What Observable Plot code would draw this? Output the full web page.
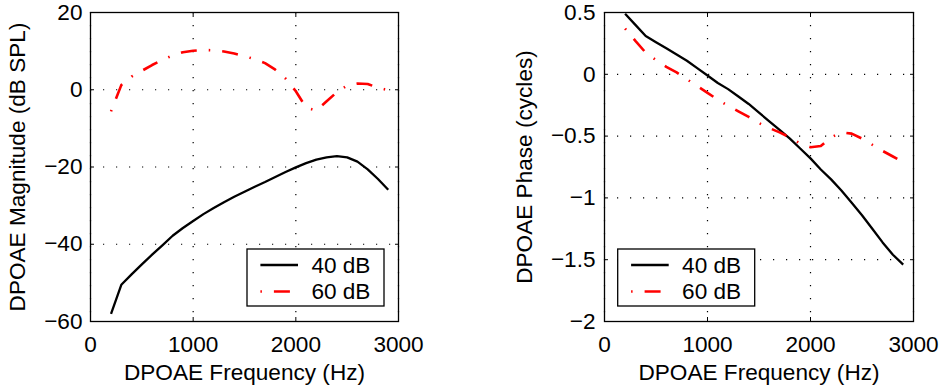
<!DOCTYPE html>
<html><head><meta charset="utf-8">
<script src="https://cdn.jsdelivr.net/npm/d3@7"></script>
<script src="https://cdn.jsdelivr.net/npm/@observablehq/plot@0.6"></script>
<style>
html,body{margin:0;padding:0;background:#fff;}
#wrap{position:relative;width:947px;height:390px;overflow:hidden;}
#wrap svg{position:absolute;top:0;}
</style></head><body><div id="wrap"></div>
<script>
const freq    = [200,300,400,500,600,700,800,900,1000,1100,1200,1300,1400,1500,1600,1700,1800,1900,2000,2100,2200,2300,2400,2500,2600,2700,2800,2900];
const mag40   = [-58.0,-50.5,-47.8,-45.2,-42.7,-40.3,-37.8,-35.8,-34.0,-32.2,-30.6,-29.1,-27.7,-26.4,-25.1,-23.9,-22.6,-21.3,-20.1,-19.0,-18.1,-17.5,-17.2,-17.5,-18.6,-20.6,-23.1,-25.9];
const mag60   = [-5.6,1.2,3.4,4.9,6.4,7.7,8.9,9.7,10.1,10.3,10.2,9.9,9.4,8.7,7.9,6.9,5.2,2.9,-0.4,-4.6,-5.4,-3.0,-0.6,1.1,1.6,1.5,0.5,-0.1];
const phase40 = [0.49,0.40,0.31,0.26,0.21,0.16,0.11,0.05,-0.01,-0.07,-0.12,-0.18,-0.24,-0.31,-0.38,-0.45,-0.52,-0.60,-0.68,-0.77,-0.85,-0.94,-1.04,-1.14,-1.25,-1.36,-1.46,-1.54];
const phase60 = [0.37,0.27,0.175,0.115,0.06,0.015,-0.04,-0.095,-0.15,-0.205,-0.255,-0.30,-0.345,-0.395,-0.435,-0.47,-0.51,-0.56,-0.59,-0.58,-0.51,-0.47,-0.48,-0.52,-0.57,-0.62,-0.665,-0.71];

const seriesNames = ["40 dB","60 dB"];
const xTicks = [0,1000,2000,3000];
const xTickLabels = ["0","1000","2000","3000"];
const magTicks = [-60,-40,-20,0,20];
const magTickLabels = ["\u221260","\u221240","\u221220","0","20"];
const phaseTicks = [-2,-1.5,-1,-0.5,0,0.5];
const phaseTickLabels = ["\u22122","\u22121.5","\u22121","\u22120.5","0","0.5"];
const xLabel = "DPOAE Frequency (Hz)";
const magLabel = "DPOAE Magnitude (dB SPL)";
const phaseLabel = "DPOAE Phase (cycles)";

const FONT = '"Liberation Sans", Arial, Helvetica, sans-serif';
const FS = 22.6;
const styles = [
  {stroke:"#000000", strokeWidth:2.3, dash:null},
  {stroke:"#ff0000", strokeWidth:2.6, dash:"1.5,12,16,12"}
];

function rows(vals){ return freq.map((f,i)=>({f, v: vals[i]})); }

function panel(o){
  const H = 390, mt = 12, mb = 69;
  const lineMarks = o.series.map((vals,i)=>Plot.lineY(rows(vals), {
    x:"f", y:"v", stroke: styles[i].stroke, strokeWidth: styles[i].strokeWidth,
    strokeDasharray: styles[i].dash, strokeLinecap:"butt", strokeLinejoin:"round"
  }));
  const fmtY = d => o.yLabels[o.yTicks.indexOf(d)];
  const fmtX = d => xTickLabels[xTicks.indexOf(d)];
  const svg = Plot.plot({
    width: o.width, height: H,
    marginTop: mt, marginBottom: mb, marginLeft: o.ml, marginRight: o.mr,
    style: {fontFamily: FONT, fontSize: FS + "px", color: "#000", background: "transparent", overflow: "visible"},
    x: {domain: [0,3000]},
    y: {domain: o.yDomain},
    marks: [
      Plot.gridX(xTicks, {stroke:"#000", strokeOpacity:1, strokeWidth:1.2, strokeDasharray:"1.2,11.8"}),
      Plot.gridY(o.yTicks, {stroke:"#000", strokeOpacity:1, strokeWidth:1.2, strokeDasharray:"1.2,11.8"}),
      Plot.axisX(xTicks, {anchor:"bottom", tickSize:0, tickPadding:14, tickFormat: fmtX,
        label: xLabel, labelAnchor:"center", labelArrow:"none", labelOffset:58, fontSize:FS}),
      Plot.axisX(xTicks, {anchor:"bottom", tickSize:-4, tickFormat: () => "", label:null}),
      Plot.axisX(xTicks, {anchor:"top", tickSize:-4, tickFormat: () => "", label:null}),
      Plot.axisY(o.yTicks, {anchor:"left", tickSize:0, tickPadding:o.tp, tickFormat: fmtY,
        label: o.yLabel, labelAnchor:"center", labelArrow:"none", labelOffset:o.lo, fontSize:FS}),
      Plot.axisY(o.yTicks, {anchor:"left", tickSize:-4, tickFormat: () => "", label:null}),
      Plot.axisY(o.yTicks, {anchor:"right", tickSize:-4, tickFormat: () => "", label:null}),
      ...lineMarks,
      Plot.frame({stroke:"#000", strokeWidth:1.3})
    ]
  });
  svg.style.left = o.left + "px";
  // legend
  const fr = o.width - o.mr, fb = H - mb;
  const bw = 137, bh = 57;
  const bx = o.legendRight ? fr - 14 - bw : o.ml + 13.7;
  const by = fb - 15 - bh;
  const g = d3.select(svg).append("g").attr("font-family", FONT).attr("font-size", FS).attr("text-anchor", "start");
  g.append("rect").attr("x", bx).attr("y", by).attr("width", bw).attr("height", bh)
    .attr("fill", "#fff").attr("stroke", "#000").attr("stroke-width", 1.3);
  seriesNames.forEach((name,i)=>{
    const y = by + 16 + i*26.5;
    g.append("line").attr("x1", bx+13.4).attr("x2", bx+51).attr("y1", y).attr("y2", y)
      .attr("stroke", styles[i].stroke).attr("stroke-width", styles[i].strokeWidth)
      .attr("stroke-dasharray", styles[i].dash);
    g.append("text").attr("x", bx+64.4).attr("y", y).attr("dy", "0.35em")
      .attr("text-anchor", "start").attr("fill", "#000").text(name);
  });
  document.getElementById("wrap").appendChild(svg);
}

panel({left:0, width:500, ml:90, mr:102, yDomain:[-60,20], yTicks:magTicks, yLabels:magTickLabels,
  yLabel:magLabel, lo:82, tp:8, series:[mag40, mag60], legendRight:true});
panel({left:500, width:447, ml:104, mr:34, yDomain:[-2,0.5], yTicks:phaseTicks, yLabels:phaseTickLabels,
  yLabel:phaseLabel, lo:89, tp:9, series:[phase40, phase60], legendRight:false});
</script></body></html>
